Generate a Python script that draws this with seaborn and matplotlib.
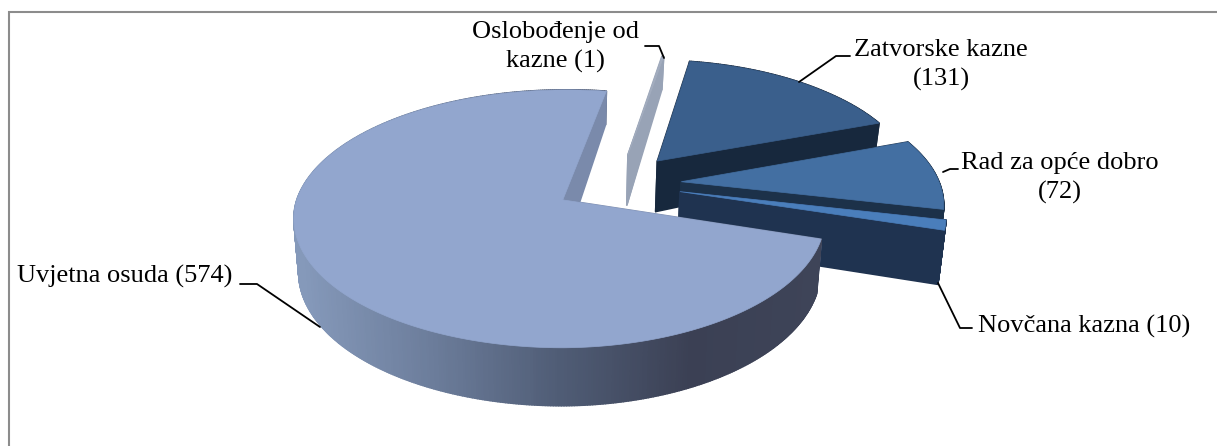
import numpy as np
import matplotlib
matplotlib.use('Agg')
import matplotlib.pyplot as plt
from matplotlib.patches import Polygon
from matplotlib.collections import PolyCollection
import seaborn as sns

# kazne, redom kao na slici
labels = ['Oslobođenje od\nkazne (1)', 'Zatvorske kazne\n(131)', 'Rad za opće dobro\n(72)',
          'Novčana kazna (10)', 'Uvjetna osuda (574)']
counts = [1, 131, 72, 10, 574]
top_colors = ['#a3adbf', '#3a5f8c', '#436fa2', '#4a7ebb', '#92a6ce']
side_colors = ['#98a3b6', '#17283d', '#1c3149', '#1f3350', '#7a8aab']
label_pos = [(555, 47), (941, 65), (1060, 178), (1084, 326), (125, 276)]
leaders = [[(645, 46), (659, 46), (664, 58)],
           [(799, 82), (836, 56), (850, 56)],
           [(943, 172), (950, 169), (958, 169)],
           [(938, 283), (960, 328), (972, 328)],
           [(240, 284), (257, 284), (320, 327)]]

sns.set_theme(style='white')
plt.rcParams['font.family'] = ['Liberation Serif', 'DejaVu Serif']

# pretvorba ravnine tocke u piksele (perspektiva)
def project(u, v):
    q = 0.147
    x = 563 + 266 * u / (1 + q * v)
    y = 200 - 126.2 * v / (1 + q * v)
    dx = np.clip(x - 563, 0, None)
    y = y - 0.006 * dx
    x = x - 6.5 * np.clip(dx / 265, 0, 1) + 3 * np.clip(v, 0, None)
    return x, y

def depth(y):
    return np.interp(y, [90, 150, 230, 350], [33, 50, 54, 58])

fig, ax = plt.subplots(figsize=(12.17, 4.46), dpi=100)
fig.subplots_adjust(0, 0, 1, 1)

wedges, _ = ax.pie(counts, explode=[0.25] * 5, startangle=79.7, counterclock=False,
                   center=(0.214, 0.129), radius=1)
ax.set_aspect('auto')
ax.set_xlim(0, 1217)
ax.set_ylim(446, 0)
ax.set_frame_on(False)

# okvir se vidi samo gore i lijevo
ax.plot([9, 9, 1217], [446, 12, 12], color='#8c8c8c', lw=1.5, zorder=1, solid_joinstyle='miter')

rim_ramp = sns.blend_palette(['#8599ba', '#6c7d9b', '#4f5c75', '#3b4054', '#3e4458'], 200)

for i, w in enumerate(wedges):
    cx, cy = w.center
    w.set_visible(False)
    t = np.radians(np.linspace(w.theta1, w.theta2, max(int(w.theta2 - w.theta1) * 2, 3)))
    us = np.r_[cx, cx + w.r * np.cos(t)]
    vs = np.r_[cy, cy + w.r * np.sin(t)]
    xs, ys = project(us, vs)
    low = ys + depth(ys)
    # dno je malo uze od vrha
    lowx = 563 + (xs - 563) * 0.982
    quads, cols = [], []
    n = len(xs)
    for k in range(n):
        j = (k + 1) % n
        quads.append([(xs[k], ys[k]), (xs[j], ys[j]), (lowx[j], low[j]), (lowx[k], low[k])])
        if k == 0 or k == n - 1 or i != 4:
            cols.append(side_colors[i])
        else:
            pos = np.clip((xs[k] - 300) / 520, 0, 0.999)
            cols.append(rim_ramp[int(pos * 200)])
    order = np.argsort([np.mean([p[1] for p in q]) for q in quads])
    z = 3 + i
    ax.add_collection(PolyCollection([quads[o] for o in order], facecolors=[cols[o] for o in order],
                                     edgecolors=[cols[o] for o in order], linewidths=1.2, zorder=z))
    ax.add_patch(Polygon(np.c_[xs, ys], closed=True, fc=top_colors[i], ec=top_colors[i], lw=0.5, zorder=z))

for lab, pos, line in zip(labels, label_pos, leaders):
    ax.text(pos[0], pos[1], lab, ha='center', va='center', fontsize=19, color='black',
            linespacing=1.42, zorder=10)
    lx, ly = zip(*line)
    ax.plot(lx, ly, color='black', lw=1.3, zorder=9)

fig.savefig('out.png', dpi=100, facecolor='white')
